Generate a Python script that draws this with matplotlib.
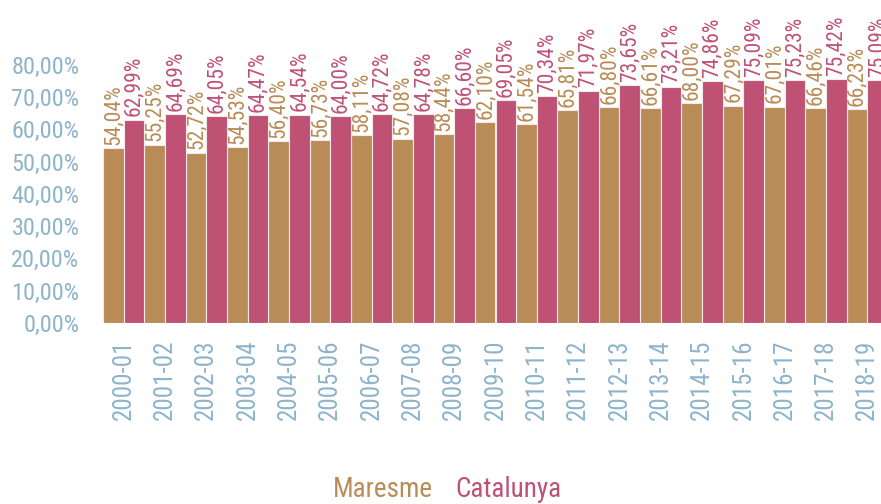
import matplotlib
matplotlib.use('Agg')
import matplotlib.pyplot as plt
import numpy as np

cursos = ['2000-01', '2001-02', '2002-03', '2003-04', '2004-05', '2005-06',
          '2006-07', '2007-08', '2008-09', '2009-10', '2010-11', '2011-12',
          '2012-13', '2013-14', '2014-15', '2015-16', '2016-17', '2017-18',
          '2018-19']
maresme = [54.04, 55.25, 52.72, 54.53, 56.40, 56.73, 58.11, 57.08, 58.44,
           62.10, 61.54, 65.81, 66.80, 66.61, 68.00, 67.29, 67.01, 66.46, 66.23]
catalunya = [62.99, 64.69, 64.05, 64.47, 64.54, 64.00, 64.72, 64.78, 66.60,
             69.05, 70.34, 71.97, 73.65, 73.21, 74.86, 75.09, 75.23, 75.42, 75.09]
yticks = [0, 10, 20, 30, 40, 50, 60, 70, 80]

col_mar = '#B98B57'
col_cat = '#BF5175'
col_axis = '#8DB4CC'

plt.rcParams['font.family'] = ['Roboto Condensed', 'DejaVu Sans']


def pct(v):
    return '{:.2f}%'.format(v).replace('.', ',')


fig = plt.figure(figsize=(8.81, 5.04), dpi=100)
ax = fig.add_axes([103 / 881, 181 / 504, 785 / 881, 323 / 504])

x = np.arange(len(cursos))
w = 0.5
ax.bar(x - w / 2, maresme, w, color=col_mar, edgecolor='#f4e9e9', linewidth=0.8)
ax.bar(x + w / 2, catalunya, w, color=col_cat, edgecolor='#f4e9e9', linewidth=0.8)

# etiquetes de valor, verticals sobre cada barra
for xi, v in zip(x, maresme):
    ax.text(xi - w / 2, v + 1.0, pct(v), rotation=90, ha='center', va='bottom',
            color=col_mar, fontsize=15.5, clip_on=False)
for xi, v in zip(x, catalunya):
    ax.text(xi + w / 2, v + 1.0, pct(v), rotation=90, ha='center', va='bottom',
            color=col_cat, fontsize=15.5, clip_on=False)

ax.set_xlim(-0.5, len(cursos) - 0.5)
ax.set_ylim(0, 100)
ax.set_yticks(yticks)
ax.set_yticklabels([pct(t) for t in yticks])
ax.set_xticks(x)
ax.set_xticklabels(cursos, rotation=90)
ax.tick_params(axis='y', length=0, pad=17, labelsize=17.5, labelcolor=col_axis)
ax.tick_params(axis='x', length=0, pad=12, labelsize=18, labelcolor=col_axis)
for s in ax.spines.values():
    s.set_visible(False)

fig.text(433 / 881, 1 / 504, 'Maresme', ha='right', va='bottom', color=col_mar, fontsize=19.5)
fig.text(455 / 881, 1 / 504, 'Catalunya', ha='left', va='bottom', color=col_cat, fontsize=19.5)

fig.savefig('out.png', dpi=100)
